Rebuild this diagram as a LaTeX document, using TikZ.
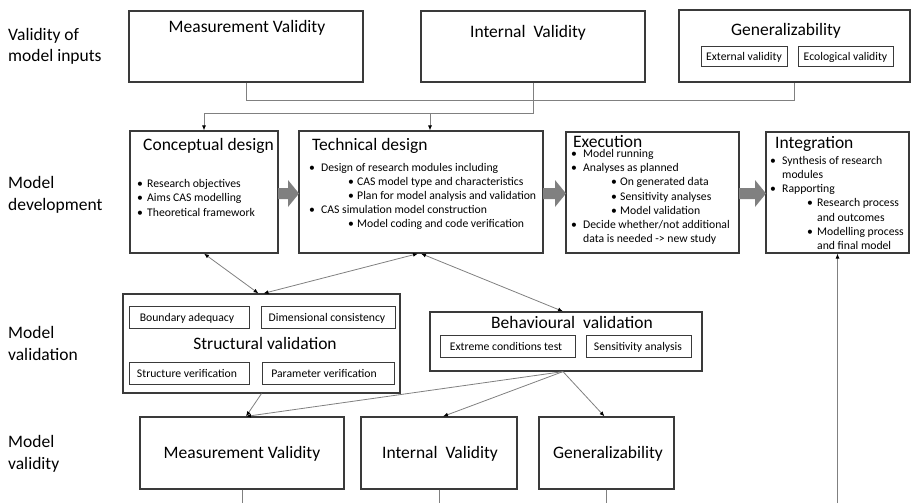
\documentclass[tikz,border=0pt]{standalone}
\usepackage{fontspec}
\setmainfont{Carlito}
\usetikzlibrary{arrows.meta,calc}
\definecolor{boxc}{HTML}{3A3A3A}
\definecolor{linec}{HTML}{808080}
\definecolor{blockc}{HTML}{808080}
\newcommand\mkbox[6][]{%
  \node[boxs,#1,minimum width={(#5-#3)*1pt},minimum height={(#6-#4)*1pt}] (#2) at ({(#3+#5)/2},{(#4+#6)/2}) {};}
\newcommand\bul[4]{%
  \node[txt,anchor=base west] at (#1,#3) {•};
  \node[txt,anchor=base west] at (#2,#3) {#4};}
\newcommand\blockarr[2]{%
  \fill[blockc] (#1,188) -- ({#2-11},188) -- ({#2-11},180) -- (#2,193.5) -- ({#2-11},207) -- ({#2-11},199) -- (#1,199) -- cycle;}
\begin{document}
\begin{tikzpicture}[x=1pt,y=-1pt,
  boxs/.style={draw=boxc,line width=1.2pt,inner sep=0pt},
  sboxs/.style={draw=boxc,line width=1pt,inner sep=0pt},
  ttl/.style={font=\fontsize{17.5}{21}\selectfont,inner sep=0pt},
  txt/.style={font=\fontsize{11.7}{14}\selectfont,inner sep=0pt},
  conn/.style={draw=linec,line width=0.8pt},
  arr/.style={-{Latex[length=5pt,width=4pt,color=black]}},
  darr/.style={{Latex[length=5pt,width=4pt,color=black]}-{Latex[length=5pt,width=4pt,color=black]}},
]
\useasboundingbox (0,0) rectangle (912,503);

% row labels
\node[ttl,anchor=base west] (l1a) at (8,40.5) {Validity of};
\node[ttl,anchor=base west] (l1b) at (8,62) {model inputs};
\node[ttl,anchor=base west] (l2a) at (8,188.5) {Model};
\node[ttl,anchor=base west] (l2b) at (8,210) {development};
\node[ttl,anchor=base west] (l3a) at (8,338.5) {Model};
\node[ttl,anchor=base west] (l3b) at (8,360) {validation};
\node[ttl,anchor=base west] (l4a) at (8,447.5) {Model};
\node[ttl,anchor=base west] (l4b) at (8,469) {validity};

% top row
\mkbox{tMV}{129}{11}{363}{82}
\mkbox{tIV}{421}{11}{645}{82}
\mkbox{tGen}{679}{10}{910}{82}
\mkbox[sboxs]{ext}{701}{47}{787}{66}
\mkbox[sboxs]{eco}{798}{47}{893}{66}
\node[ttl,anchor=base] (tMVt) at (247,32.5) {Measurement Validity};
\node[ttl,anchor=base] (tIVt) at (528,37.5) {Internal\ \ Validity};
\node[ttl,anchor=base] (tGent) at (786,36) {Generalizability};
\node[txt,anchor=base] (extt) at (744,60.5) {External validity};
\node[txt,anchor=base] (ecot) at (845.5,60.5) {Ecological validity};

% middle row
\mkbox{cd}{130}{131}{278}{253}
\mkbox{td}{299}{131}{543}{253}
\mkbox{ex}{566}{132}{739}{253}
\mkbox{integ}{766}{132}{909}{253}
\node[ttl,anchor=base west] (cdt) at (143,150.5) {Conceptual design};
\node[ttl,anchor=base west] (tdt) at (312,150.5) {Technical design};
\node[ttl,anchor=base west] (ext2) at (573,147) {Execution};
\node[ttl,anchor=base west] (intt) at (775,148.5) {Integration};

\bul{137}{147}{187}{Research objectives}
\bul{137}{147}{201.5}{Aims CAS modelling}
\bul{137}{147}{216}{Theoretical framework}

\bul{309}{321}{171}{Design of research modules including}
\bul{348}{357}{185}{CAS model type and characteristics}
\bul{348}{357}{199}{Plan for model analysis and validation}
\bul{309}{321}{213}{CAS simulation model construction}
\bul{348}{357}{227}{Model coding and code verification}

\bul{571}{583}{157.5}{Model running}
\bul{571}{583}{171.5}{Analyses as planned}
\bul{611}{620}{185.5}{On generated data}
\bul{611}{620}{200}{Sensitivity analyses}
\bul{611}{620}{214}{Model validation}
\bul{571}{583}{228}{Decide whether/not additional}
\node[txt,anchor=base west] at (583,242) {data is needed -> new study};

\bul{770}{782}{164}{Synthesis of research}
\node[txt,anchor=base west] at (782,178.3) {modules};
\bul{770}{782}{192.6}{Rapporting}
\bul{807}{817}{206.9}{Research process}
\node[txt,anchor=base west] at (817,221.2) {and outcomes};
\bul{807}{817}{235.5}{Modelling process}
\node[txt,anchor=base west] at (817,249.8) {and final model};

\blockarr{278}{299}
\blockarr{543}{566}
\blockarr{739}{766}

% validation row
\mkbox{sv}{123}{294}{400}{393}
\mkbox[sboxs]{ba}{129}{306}{249}{328}
\mkbox[sboxs]{dc}{261}{306}{395}{328}
\mkbox[sboxs]{sver}{129}{362}{249}{384}
\mkbox[sboxs]{pv}{262}{362}{394}{384}
\node[ttl,anchor=base] (svt) at (265,349.5) {Structural validation};
\node[txt,anchor=base] (bat) at (187,321) {Boundary adequacy};
\node[txt,anchor=base] (dct) at (327,321) {Dimensional consistency};
\node[txt,anchor=base] (svert) at (187,377) {Structure verification};
\node[txt,anchor=base] (pvt) at (324,377) {Parameter verification};

\mkbox{bv}{430}{312}{702}{371}
\mkbox[sboxs]{ect}{440}{335}{575}{357}
\mkbox[sboxs]{sa}{586}{335}{691}{357}
\node[ttl,anchor=base] (bvt) at (572,328.5) {Behavioural\ \ validation};
\node[txt,anchor=base] (ectt) at (506,350) {Extreme conditions test};
\node[txt,anchor=base] (sat) at (638,350) {Sensitivity analysis};

% bottom row
\mkbox{bMV}{140}{417}{344}{489}
\mkbox{bIV}{361}{417}{517}{489}
\mkbox{bGen}{539}{417}{674}{489}
\node[ttl,anchor=base] (bMVt) at (242,458.5) {Measurement Validity};
\node[ttl,anchor=base] (bIVt) at (440,458.5) {Internal\ \ Validity};
\node[ttl,anchor=base] (bGent) at (608,458.5) {Generalizability};

% connectors
\coordinate (j1) at (0,100);
\coordinate (j2) at (0,113);
\coordinate (bot) at (0,503);
\draw[conn] (tMV.south) -- (tMV.south |- j1) -- (tGen.south |- j1) -- (tGen.south);
\draw[conn,arr] (tIV.south) -- (tIV.south |- j2) -- (cd.north |- j2) -- (cd.north);
\coordinate (tdin) at ($(td.north)+(9,0)$);
\draw[conn,arr] (tdin |- j2) -- (tdin);

\draw[conn,darr] (cd.south) -- ($(sv.north)+(-3,0)$);
\draw[conn,darr] ($(td.south)+(-3,0)$) -- ($(sv.north)+(2,0)$);
\draw[conn,darr] (td.south) -- ($(bv.north)+(-3,0)$);

\coordinate (mvin) at ($(bMV.north)+(4,0)$);
\coordinate (bvout) at ($(bv.south)+(-3,0)$);
\draw[conn,arr] (sv.south) -- (mvin);
\draw[conn,arr] (bvout) -- (mvin);
\draw[conn,arr] (bvout) -- ($(bIV.north)+(4,0)$);
\draw[conn,arr] (bvout) -- ($(bGen.north)+(-2,0)$);

\draw[conn] (bMV.south) -- (bMV.south |- bot);
\draw[conn] (bIV.south) -- (bIV.south |- bot);
\draw[conn] (bGen.south) -- (bGen.south |- bot);
\draw[conn,arr] (integ.south |- bot) -- (integ.south);
\end{tikzpicture}
\end{document}
